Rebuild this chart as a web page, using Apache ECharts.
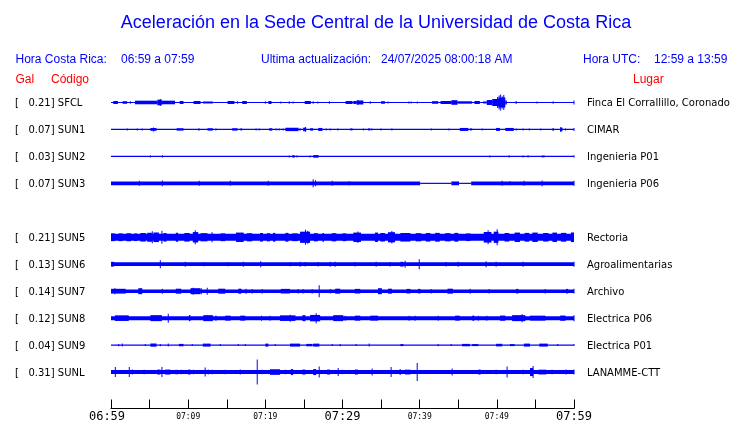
<!DOCTYPE html>
<html><head><meta charset="utf-8">
<script src="https://cdn.jsdelivr.net/npm/echarts@6/dist/echarts.min.js"></script>
<style>html,body{margin:0;padding:0;background:#fff}#c{width:740px;height:423px}</style>
</head><body><div id="c"></div>
<script>
// ---- data ----
const codes = ['SFCL','SUN1','SUN2','SUN3','SUN5','SUN6','SUN7','SUN8','SUN9','SUNL'];
const peaks = ['0.21','0.07','0.03','0.07','0.21','0.13','0.14','0.12','0.04','0.31'];
const places = ['Finca El Corrallillo, Coronado','CIMAR','Ingenieria P01','Ingenieria P06','Rectoria','Agroalimentarias','Archivo','Electrica P06','Electrica P01','LANAMME-CTT'];
const tickLabels = ['06:59','07:09','07:19','07:29','07:39','07:49','07:59'];
// envelope segments: [start minute, end minute, half amplitude]
const sfcl = [[0,60,0.6],[0.3,0.9,1.5],[1.5,2.1,1.3],[2.5,2.5,1.2],[3.1,6.0,1.8],[6.0,6.6,2.8],[6.39,6.39,3.5],[6.6,8.3,1.8],[8.9,9.4,1.5],[10.7,11.6,1.5],[11.9,13.2,1.0],[15.1,16.0,1.5],[16.4,16.4,1.2],
 [17.0,17.6,1.5],[20.0,20.0,1.2],[20.4,20.8,1.5],[22.0,22.0,1.0],[23.1,23.1,1.2],[23.6,23.6,1.0],[25.1,25.9,1.5],[26.2,26.2,1.2],[26.8,26.9,1.0],[28.3,28.4,1.2],[30.4,31.3,1.5],[31.4,31.8,1.5],[31.8,32.7,2.0],[32.0,32.0,2.6],[33.6,33.6,1.2],[35.0,35.5,1.3],[35.9,35.9,1.0],[38.6,38.6,1.0],
 [38.9,38.9,1.0],[39.7,39.7,1.0],[41.6,42.4,1.3],[42.7,44.1,1.5],[44.1,44.9,2.3],[44.9,46.8,1.2],[47.1,47.8,1.5],[48.2,48.7,1.0],[48.7,49.4,2.5],[49.4,50.3,3.5],[50.2,51.1,5.0],[50.1,50.1,5.5],[50.3,50.3,7],[50.5,50.5,8],[50.7,50.7,6],[50.9,50.9,7.5],[51.1,51.3,2.0],[52.5,52.5,1.5],[55.2,55.2,0.9],[57.3,57.3,1.2],[60,60,2]];
const sun1 = [[0,60,0.6],[2.1,2.1,1.0],[3.4,3.4,1.0],[4.05,4.05,1.0],[5.1,5.9,1.4],[5.5,5.5,2.0],[8.5,9.4,1.2],[11.4,11.4,1.2],[12.5,13.2,1.2],[13.6,13.6,1.0],[15.7,16.4,1.2],[16.75,17.0,1.0],
 [18.8,18.8,1.0],[19.2,19.2,1.0],[20.5,20.9,1.2],[21.4,21.4,1.0],[21.8,21.8,1.0],[22.3,22.3,1.0],[22.6,24.3,1.7],[24.5,24.5,1.2],[24.9,25.3,1.8],[25.2,25.2,2.4],[25.8,26.2,1.2],[26.85,27.4,1.5],[27.9,27.9,1.0],[28.4,28.4,1.0],[29.4,29.4,1.0],[31.0,31.3,1.0],[32.7,32.7,1.0],[33.3,33.6,1.0],[33.8,33.8,1.0],[35.0,35.0,1.0],[36.4,36.4,1.0],
 [41.5,41.5,1.0],[43.8,43.8,1.0],[45.2,46.3,1.5],[46.5,46.8,1.0],[48.1,48.1,1.0],[49.9,50.4,1.5],[51.1,52.2,1.5],[52.5,52.5,1.0],[53.4,53.4,1.0],[54.2,54.2,1.0],[55.7,55.7,1.0],[57.2,57.4,1.2],[58.2,58.5,1.8],[58.3,58.3,2.5],[58.9,59.0,1.0],[60,60,1.5]];
const sun2 = [[0,60,0.6],[5.1,5.1,1.0],[6.65,6.65,1.2],[23.1,23.1,1.0],[23.5,23.8,1.2],[24.1,24.1,1.0],[25.8,25.8,1.0],[26.2,26.9,1.3],[49.1,49.1,1.0],[51.6,51.6,1.2],[53.4,53.4,1.0],[54.05,54.05,1.2],[55.9,55.9,1.0],[56.1,56.1,1.2],[60,60,1.2]];
const sun3 = [[0,40.06,1.9],[40.06,44.1,0.6],[44.1,45.1,1.9],[45.1,46.67,0.6],[46.67,60,1.9],[3.67,3.67,2.5],[6.65,6.65,2.8],[11.44,11.44,2.5],[15.46,15.46,2.5],[20.38,20.38,2.5],[26.2,26.2,4],[26.5,26.5,3],[28.67,28.67,2.5],[30.87,30.87,2.0],[50.69,50.69,2.5],[51.72,51.72,2.0],[53.54,53.54,2.5],[55.87,55.87,2.8],[60,60,2.5]];
const sun5 = [[0,60,3.4],[0,0.5,3.9],[1.0,1.5,3.9],[2.0,2.6,4.0],[3.0,3.4,3.8],[3.8,4.5,4.3],[4.7,5.3,4.5],[5.35,5.35,6],[5.5,6.2,4.8],[6.6,6.6,6.5],[6.8,7.2,4.3],[8.4,8.7,4.5],[9.5,10.2,4.3],[10.6,11.3,5.2],[10.92,10.92,7],[11.6,12.5,4.1],[13.1,13.1,5],[14.2,14.8,3.9],[16.2,17.2,4.7],[17.6,18.3,4.1],[19.3,19.7,4.3],[20.2,20.6,4.1],[21.0,21.3,4.4],[22.6,23.0,4.4],[23.5,24.2,3.9],[24.5,25.8,5.6],[25.2,25.2,7.5],[25.5,25.5,6.5],[26.3,26.8,4.1],[27.4,27.6,4.4],[28.6,29.2,4.1],[30.0,30.5,3.9],[31.4,32.4,4.7],[32.0,32.0,5.7],[34.2,34.6,4.7],[34.9,35.5,4.3],[35.9,36.8,5.1],[36.4,36.4,6.2],[37.5,38.8,4.3],[39.5,40.2,4.1],[40.8,41.4,4.3],[42.0,42.6,4.4],[43.3,44.0,4.1],[44.5,45.0,4.4],[46.0,46.6,3.8],[48.3,49.3,5.3],[48.87,48.87,7],[49.6,50.2,5.6],[50.04,50.04,8],[51.0,51.6,4.3],[52.3,53.0,4.7],[53.6,54.2,4.4],[54.6,55.3,4.7],[56.0,56.7,4.3],[57.2,57.8,4.7],[58.3,59.0,4.4],[59.6,60,4.8]];
const sun6 = [[0,60,1.9],[0,0.4,2.4],[6.39,6.39,4],[9.62,9.62,2.5],[12.09,12.09,2.0],[15.2,15.2,2.0],[17.14,17.14,2.5],[19.34,19.47,3.0],[23.23,23.23,2.0],[24.52,24.52,2.5],[25.17,25.17,2.2],[26.85,26.85,2.2],[28.41,28.41,2.5],[29.05,29.05,2.5],[31.64,31.64,2.3],[34.36,34.36,2.5],[36.18,36.18,2.3],[37.5,37.9,2.4],[38.12,38.12,3.5],[39.94,39.94,5],[43.43,43.43,2.3],[44.99,44.99,2.5],[48.61,48.61,3],[49.9,49.9,2.5],[53.41,53.41,2.5],[60,60,2.6]];
const sun7 = [[0,60,1.8],[0,1.9,2.4],[0.5,0.5,3],[3.54,4.05,3.0],[6.65,6.65,2.5],[8.4,9.1,2.5],[10.3,11.6,3.0],[10.66,10.66,3.5],[11.7,11.7,3],[12.47,12.47,3.5],[13.9,14.8,2.5],[16.5,16.9,2.5],[17.5,17.5,2.5],[18.3,18.3,2.3],[19.6,19.6,2.3],[22.0,23.2,2.3],[24.26,24.26,2.3],[24.9,24.9,2.3],[26.07,26.07,2.3],[26.98,26.98,6],[28.41,28.41,2.3],[29.05,29.7,2.5],[31.6,32.3,2.3],[34.6,35.1,3.0],[35.9,36.4,2.5],[38.3,38.8,2.3],[39.8,40.1,2.3],[41.49,41.49,2.3],[43.6,44.3,2.5],[46.54,46.54,2.5],[49.0,49.1,2.3],[52.5,52.8,2.3],[56.26,56.26,2.3],[58.98,59.24,2.3],[60,60,2.4]];
const sun8 = [[0,60,2.0],[0.5,2.3,2.8],[5.1,6.6,3.0],[7.42,7.42,4.5],[10.1,10.3,3.0],[11.96,13.2,3.0],[13.6,13.6,2.6],[14.8,15.5,2.5],[16.75,17.4,2.5],[19.5,19.5,2.5],[20.6,20.6,2.5],[21.9,23.9,2.8],[23.23,23.23,3.5],[24.8,25.2,3.0],[25.8,27.1,3.2],[26.59,26.59,5],[28.8,30.1,3.0],[30.35,30.35,2.5],[31.6,32.3,2.5],[33.6,34.6,2.5],[38.64,38.64,2.5],[39.41,39.41,2.5],[42.4,42.4,2.5],[44.6,45.2,2.5],[46.8,47.1,2.5],[47.6,47.6,2.5],[48.7,48.7,2.5],[50.4,51.1,2.6],[51.98,53.7,3.0],[53.28,53.28,4],[54.3,56.3,2.5],[58.2,58.9,2.6],[60,60,3]];
const sun9 = [[0,60,0.6],[1.0,1.0,1.2],[1.46,1.46,1.5],[4.44,4.44,1.0],[5.1,5.9,1.6],[6.39,6.39,1.2],[7.42,7.42,1.5],[8.8,9.4,1.2],[10.53,10.53,1.0],[11.9,12.9,1.5],[14.16,14.16,1.0],[16.49,16.49,1.0],[17.4,17.4,1.0],[20.0,20.4,1.5],[21.28,21.28,1.0],[23.2,24.5,1.5],[25.3,26.1,1.2],[26.2,27.0,1.5],[28.67,28.67,1.0],[29.7,29.7,1.2],[31.77,31.77,1.0],[33.46,33.46,1.5],[37.5,37.9,1.0],[42.4,42.4,1.2],[44.08,44.08,1.0],[45.5,46.5,1.2],[46.8,47.6,1.0],[49.9,50.7,1.3],[51.7,52.3,1.0],[53.5,54.3,1.5],[55.5,56.6,1.5],[57.9,57.9,1.0],[60,60,1.0]];
const sunl = [[0,60,2.0],[0.56,0.56,5],[2.37,2.37,5],[2.76,2.76,2.5],[4.3,4.3,2.2],[6.0,6.4,2.5],[6.6,6.6,5],[7.0,7.7,2.5],[8.3,8.7,2.2],[9.1,9.1,2.2],[10.0,10.3,2.5],[10.66,10.66,2.2],[12.2,12.2,4.5],[12.6,12.6,2.5],[13.12,13.12,2.2],[14.8,14.8,2.2],[16.75,16.75,2.5],[18.95,18.95,12.5],[19.6,19.6,2.2],[20.6,21.9,2.8],[22.58,22.58,2.2],[23.3,23.6,3.0],[24.8,25.2,2.5],[26.2,26.6,3.0],[26.98,26.98,5.5],[28.0,28.4,2.5],[29.44,29.44,4],[29.96,29.96,2.2],[31.6,32.0,2.5],[33.84,33.84,3.5],[36.3,36.3,5],[37.47,37.47,3],[38.1,38.8,2.4],[39.68,39.68,9],[44.21,44.21,3.5],[47.6,47.9,2.5],[49.9,49.9,2.3],[51.33,51.33,5.5],[53.41,53.41,2.3],[54.3,54.7,4.0],[54.7,54.7,6],[55.4,56.4,2.4],[57.16,57.16,2.3],[58.98,58.98,2.5],[60,60,2.5]];
const traces = [sfcl, sun1, sun2, sun3, sun5, sun6, sun7, sun8, sun9, sunl];

// ---- layout ----
const gridTop = 89, gridBottom = 14, gridLeft = 111, gridRight = 166;
const rowFirst = 13, rowGap = 27;
const slotOf = i => (i < 4 ? i : i + 1);           // SUN4 row is empty
const centerOf = i => rowFirst + rowGap * slotOf(i);
const BLUE = '#0000ff', RED = '#ff0000';

const segData = [];
traces.forEach((tr, i) => tr.forEach(s => segData.push([centerOf(i), s[0], s[1], s[2]])));

const chart = echarts.init(document.getElementById('c'), null, {renderer: 'canvas'});
const graphics = [];
const sans = 'Liberation Sans, Arial, sans-serif';
const dj = 'DejaVu Sans, sans-serif';
function txt(x, y, text, fill, size, family, align) {
  graphics.push({type: 'text', x: x, y: y, silent: true,
    style: {text: text, fill: fill, font: size + 'px ' + family, textAlign: align || 'left', textVerticalAlign: 'middle'}});
}
txt(376, 23, 'Aceleración en la Sede Central de la Universidad de Costa Rica', BLUE, 18, sans, 'center');
txt(15.5, 60, 'Hora Costa Rica:', BLUE, 12, sans);
txt(121, 60, '06:59 a 07:59', BLUE, 12, sans);
txt(261, 60, 'Ultima actualización:', BLUE, 12, sans);
txt(381, 60, '24/07/2025 08:00:18 AM', BLUE, 12, sans);
txt(583, 60, 'Hora UTC:', BLUE, 12, sans);
txt(654, 60, '12:59 a 13:59', BLUE, 12, sans);
txt(15.5, 80, 'Gal', RED, 12, sans);
txt(51, 80, 'Código', RED, 12, sans);
txt(633, 80, 'Lugar', RED, 12, sans);
codes.forEach((c, i) => {
  const y = gridTop + centerOf(i) + 1;
  txt(15, y, '[   ' + peaks[i] + '] ' + c, '#000', 10, dj);
  txt(587, y, places[i], '#000', 10, dj);
});

chart.setOption({
  animation: false,
  backgroundColor: '#fff',
  grid: {left: gridLeft, right: gridRight, top: gridTop, bottom: gridBottom},
  xAxis: {
    type: 'value', min: 0, max: 60, interval: 5, position: 'bottom',
    axisLine: {show: true, onZero: false, lineStyle: {color: '#000', width: 1}},
    axisTick: {show: true, inside: true, length: 9, lineStyle: {color: '#000', width: 1}},
    splitLine: {show: false},
    axisLabel: {
      margin: 2, verticalAlign: 'top', showMinLabel: true, showMaxLabel: true,
      formatter: v => {
        if (v % 10 !== 0) return '';
        const lab = tickLabels[v / 10];
        if (v === 0) return '{first|' + lab + '}';
        return v % 30 === 0 ? '{big|' + lab + '}' : '{small|' + lab + '}';
      },
      rich: {
        first: {fontFamily: 'DejaVu Sans Mono, monospace', fontSize: 12, color: '#000', lineHeight: 13, padding: [0, 8, 0, 0]},
        big: {fontFamily: 'DejaVu Sans Mono, monospace', fontSize: 12, color: '#000', lineHeight: 13},
        small: {fontFamily: 'DejaVu Sans Mono, monospace', fontSize: 8, color: '#000', lineHeight: 12}
      }
    }
  },
  yAxis: {type: 'value', min: 0, max: 320, inverse: true, show: false},
  series: [{
    type: 'custom', clip: false, silent: true,
    encode: {x: [1, 2], y: 0},
    data: segData,
    renderItem: (params, api) => {
      const c = api.value(0), t0 = api.value(1), t1 = api.value(2), a = api.value(3);
      const p0 = api.coord([t0, c]);
      const p1 = api.coord([t1, c]);
      const h = api.size([0, a])[1];
      const w = Math.max(1, p1[0] - p0[0]);
      return {type: 'rect', shape: {x: p0[0] - (p1[0] - p0[0] < 1 ? 0.5 : 0), y: p0[1] + 0.5 - h, width: w, height: 2 * h},
              style: {fill: BLUE}};
    }
  }],
  graphic: graphics
});
</script></body></html>
